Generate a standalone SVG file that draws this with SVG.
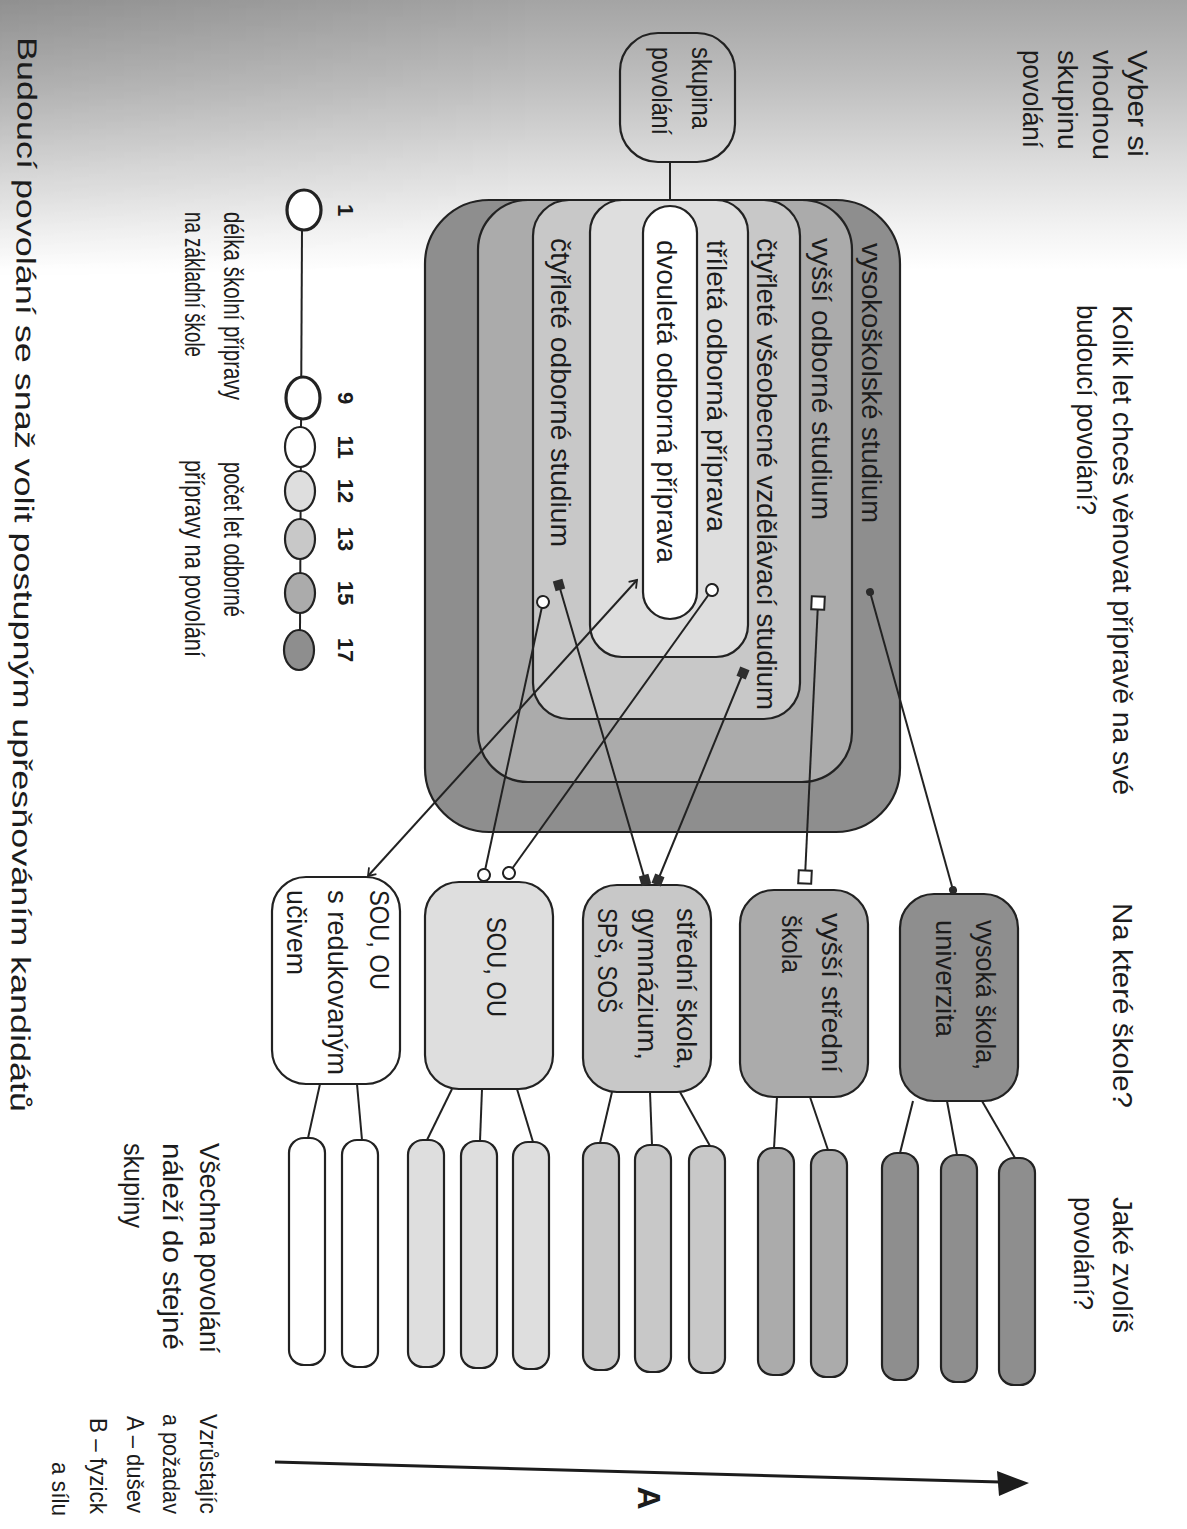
<svg xmlns="http://www.w3.org/2000/svg" width="1187" height="1529" viewBox="0 0 1187 1529">
  <defs>
    <style>
      .t { font-family: "Liberation Sans Narrow", "Liberation Sans", Arial, sans-serif; font-size: 27px; fill: #1c1c1c; }
      .small { font-size: 24px; }
      .num { font-family: "Liberation Sans Narrow", "Liberation Sans", Arial, sans-serif; font-size: 22px; font-weight: bold; fill: #1c1c1c; }
      .big { font-family: "Liberation Sans", Arial, sans-serif; font-size: 32px; font-weight: bold; fill: #1c1c1c; }
      .edge { stroke: #222; stroke-width: 2.2; }
      .thick { stroke: #222; stroke-width: 3.2; }
      .wire { fill: none; stroke: #222; stroke-width: 2; }
      .y11 { fill: #ffffff; }
      .y12 { fill: #dedede; }
      .y13 { fill: #c8c8c8; }
      .y15 { fill: #ababab; }
      .y17 { fill: #8e8e8e; }
    </style>
    <linearGradient id="scanShade" x1="0" y1="0" x2="0" y2="1">
      <stop offset="0" stop-color="#a4a4a4"/>
      <stop offset="0.3" stop-color="#bebebe"/>
      <stop offset="0.6" stop-color="#dcdcdc"/>
      <stop offset="0.85" stop-color="#f3f3f3"/>
      <stop offset="1" stop-color="#ffffff"/>
    </linearGradient>
    <linearGradient id="sideShade" x1="0" y1="0" x2="1" y2="0">
      <stop offset="0" stop-color="#000" stop-opacity="0.12"/>
      <stop offset="0.45" stop-color="#000" stop-opacity="0"/>
    </linearGradient>
    <linearGradient id="sideFade" x1="0" y1="0" x2="0" y2="1">
      <stop offset="0" stop-color="#fff" stop-opacity="1"/>
      <stop offset="1" stop-color="#fff" stop-opacity="0"/>
    </linearGradient>
    <mask id="topOnly" maskUnits="userSpaceOnUse" x="0" y="0" width="1187" height="300">
      <rect x="0" y="0" width="1187" height="280" fill="url(#sideFade)"/>
    </mask>
    <marker id="dot" viewBox="-6 -6 12 12" markerWidth="12" markerHeight="12" markerUnits="userSpaceOnUse" orient="auto">
      <circle r="4" fill="#2a2a2a"/>
    </marker>
    <marker id="sqOpen" viewBox="-9 -9 18 18" markerWidth="18" markerHeight="18" markerUnits="userSpaceOnUse" orient="auto">
      <rect x="-6.5" y="-6.5" width="13" height="13" fill="#fff" stroke="#222" stroke-width="2"/>
    </marker>
    <marker id="sqFill" viewBox="-8 -8 16 16" markerWidth="16" markerHeight="16" markerUnits="userSpaceOnUse" orient="auto">
      <rect x="-5" y="-5" width="10" height="10" fill="#2e2e2e"/>
    </marker>
    <marker id="ring" viewBox="-9 -9 18 18" markerWidth="18" markerHeight="18" markerUnits="userSpaceOnUse" orient="auto">
      <circle r="6" fill="#fff" stroke="#222" stroke-width="2"/>
    </marker>
    <marker id="chev" viewBox="-10 -8 12 16" markerWidth="12" markerHeight="16" markerUnits="userSpaceOnUse" orient="auto-start-reverse">
      <path d="M-7,-5 L0,0 L-7,5" fill="none" stroke="#222" stroke-width="1.8"/>
    </marker>
  </defs>

  <!-- page background with the darker band along the top edge -->
  <rect x="0" y="0" width="1187" height="1529" fill="#ffffff"/>
  <rect x="0" y="0" width="1187" height="270" fill="url(#scanShade)"/>
  <rect x="0" y="0" width="1187" height="280" fill="url(#sideShade)" mask="url(#topOnly)"/>

  <!-- headings -->
  <g id="heading-group">
    <text class="t" transform="translate(1128,50) rotate(90)" textLength="107" lengthAdjust="spacingAndGlyphs">Vyber si</text>
    <text class="t" transform="translate(1093,50) rotate(90)" textLength="110" lengthAdjust="spacingAndGlyphs">vhodnou</text>
    <text class="t" transform="translate(1058,50) rotate(90)" textLength="100" lengthAdjust="spacingAndGlyphs">skupinu</text>
    <text class="t" transform="translate(1023,50) rotate(90)" textLength="98" lengthAdjust="spacingAndGlyphs">povolání</text>
  </g>
  <g id="heading-years">
    <text class="t" transform="translate(1113,305) rotate(90)" textLength="490" lengthAdjust="spacingAndGlyphs">Kolik let chceš věnovat přípravě na své</text>
    <text class="t" transform="translate(1077,305) rotate(90)" textLength="210" lengthAdjust="spacingAndGlyphs">budoucí povolání?</text>
  </g>
  <g id="heading-school">
    <text class="t" transform="translate(1113,903) rotate(90)" textLength="205" lengthAdjust="spacingAndGlyphs">Na které škole?</text>
  </g>
  <g id="heading-job">
    <text class="t" transform="translate(1113,1197) rotate(90)" textLength="136" lengthAdjust="spacingAndGlyphs">Jaké zvolíš</text>
    <text class="t" transform="translate(1074,1197) rotate(90)" textLength="113" lengthAdjust="spacingAndGlyphs">povolání?</text>
  </g>

  <!-- occupation group -->
  <g id="node-skupina">
    <rect x="620" y="33" width="115" height="129" rx="38" fill="none" class="edge"/>
    <text class="t" transform="translate(692,47) rotate(90)" textLength="82" lengthAdjust="spacingAndGlyphs">skupina</text>
    <text class="t" transform="translate(652,47) rotate(90)" textLength="88" lengthAdjust="spacingAndGlyphs">povolání</text>
  </g>

  <!-- nested study levels -->
  <g id="node-vysokoskolske">
    <rect x="425" y="200" width="475" height="632" rx="64" class="y17 edge"/>
    <text class="t" transform="translate(862,243) rotate(90)" textLength="280" lengthAdjust="spacingAndGlyphs">vysokoškolské studium</text>
  </g>
  <g id="node-vyssi-odborne">
    <rect x="478" y="200" width="374" height="582" rx="50" class="y15 edge"/>
    <text class="t" transform="translate(812,238) rotate(90)" textLength="282" lengthAdjust="spacingAndGlyphs">vyšší odborné studium</text>
  </g>
  <g id="node-ctyrlete">
    <rect x="533" y="200" width="267" height="519" rx="36" class="y13 edge"/>
    <text class="t" transform="translate(757,238) rotate(90)" textLength="472" lengthAdjust="spacingAndGlyphs">čtyřleté všeobecné vzdělávací studium</text>
    <text class="t" transform="translate(551,238) rotate(90)" textLength="309" lengthAdjust="spacingAndGlyphs">čtyřleté odborné studium</text>
  </g>
  <g id="node-trileta">
    <rect x="590" y="200" width="158" height="457" rx="32" class="y12 edge"/>
    <text class="t" transform="translate(707,240) rotate(90)" textLength="292" lengthAdjust="spacingAndGlyphs">tříletá odborná příprava</text>
  </g>
  <g id="node-dvouleta">
    <rect x="643" y="206" width="54" height="413" rx="27" class="y11 edge"/>
    <text class="t" transform="translate(657,240) rotate(90)" textLength="323" lengthAdjust="spacingAndGlyphs">dvouletá odborná příprava</text>
  </g>

  <!-- years scale -->
  <g id="node-years-scale">
    <line x1="302" y1="230" x2="300" y2="630" stroke="#222" stroke-width="2"/>
    <ellipse cx="304" cy="210" rx="17" ry="20" fill="#fff" class="thick"/>
    <ellipse cx="303" cy="398" rx="17" ry="21" fill="#fff" class="thick"/>
    <ellipse cx="300" cy="447" rx="15" ry="20" class="y11 edge"/>
    <ellipse cx="300" cy="491" rx="15" ry="20" class="y12 edge"/>
    <ellipse cx="300" cy="539" rx="15" ry="20" class="y13 edge"/>
    <ellipse cx="300" cy="593" rx="15" ry="20" class="y15 edge"/>
    <ellipse cx="299" cy="650" rx="15" ry="20" class="y17 edge"/>
    <text class="num" transform="translate(338,210) rotate(90)" text-anchor="middle">1</text>
    <text class="num" transform="translate(338,398) rotate(90)" text-anchor="middle">9</text>
    <text class="num" transform="translate(338,447) rotate(90)" text-anchor="middle">11</text>
    <text class="num" transform="translate(338,491) rotate(90)" text-anchor="middle">12</text>
    <text class="num" transform="translate(338,539) rotate(90)" text-anchor="middle">13</text>
    <text class="num" transform="translate(338,593) rotate(90)" text-anchor="middle">15</text>
    <text class="num" transform="translate(338,650) rotate(90)" text-anchor="middle">17</text>
    <text class="t" transform="translate(224,212) rotate(90)" textLength="188" lengthAdjust="spacingAndGlyphs">délka školní přípravy</text>
    <text class="t" transform="translate(185,212) rotate(90)" textLength="145" lengthAdjust="spacingAndGlyphs">na základní škole</text>
    <text class="t" transform="translate(224,462) rotate(90)" textLength="155" lengthAdjust="spacingAndGlyphs">počet let odborné</text>
    <text class="t" transform="translate(185,460) rotate(90)" textLength="197" lengthAdjust="spacingAndGlyphs">přípravy na povolání</text>
  </g>

  <!-- schools -->
  <g id="node-sou-redukovane">
    <rect x="272" y="877" width="128" height="207" rx="34" class="y11 edge"/>
    <text class="t" transform="translate(370,890) rotate(90)" textLength="100" lengthAdjust="spacingAndGlyphs">SOU, OU</text>
    <text class="t" transform="translate(328,890) rotate(90)" textLength="185" lengthAdjust="spacingAndGlyphs">s redukovaným</text>
    <text class="t" transform="translate(287,890) rotate(90)" textLength="85" lengthAdjust="spacingAndGlyphs">učivem</text>
  </g>
  <g id="node-sou">
    <rect x="425" y="882" width="128" height="207" rx="34" class="y12 edge"/>
    <text class="t" transform="translate(487,917) rotate(90)" textLength="100" lengthAdjust="spacingAndGlyphs">SOU, OU</text>
  </g>
  <g id="node-stredni">
    <rect x="583" y="885" width="128" height="207" rx="34" class="y13 edge"/>
    <text class="t" transform="translate(677,908) rotate(90)" textLength="162" lengthAdjust="spacingAndGlyphs">střední škola,</text>
    <text class="t" transform="translate(638,908) rotate(90)" textLength="152" lengthAdjust="spacingAndGlyphs">gymnázium,</text>
    <text class="t" transform="translate(598,908) rotate(90)" textLength="105" lengthAdjust="spacingAndGlyphs">SPŠ, SOŠ</text>
  </g>
  <g id="node-vyssi-stredni">
    <rect x="740" y="890" width="128" height="207" rx="34" class="y15 edge"/>
    <text class="t" transform="translate(822,913) rotate(90)" textLength="160" lengthAdjust="spacingAndGlyphs">vyšší střední</text>
    <text class="t" transform="translate(782,915) rotate(90)" textLength="58" lengthAdjust="spacingAndGlyphs">škola</text>
  </g>
  <g id="node-vysoka">
    <rect x="900" y="894" width="118" height="207" rx="34" class="y17 edge"/>
    <text class="t" transform="translate(976,920) rotate(90)" textLength="150" lengthAdjust="spacingAndGlyphs">vysoká škola,</text>
    <text class="t" transform="translate(936,920) rotate(90)" textLength="117" lengthAdjust="spacingAndGlyphs">univerzita</text>
  </g>

  <!-- occupations -->
  <g id="node-jobs-sou-redukovane">
    <rect x="289" y="1138" width="36" height="227" rx="15" class="y11 edge"/>
    <rect x="342" y="1140" width="36" height="227" rx="15" class="y11 edge"/>
  </g>
  <g id="node-jobs-sou">
    <rect x="408" y="1140" width="36" height="227" rx="15" class="y12 edge"/>
    <rect x="461" y="1141" width="36" height="227" rx="15" class="y12 edge"/>
    <rect x="513" y="1142" width="36" height="227" rx="15" class="y12 edge"/>
  </g>
  <g id="node-jobs-stredni">
    <rect x="583" y="1143" width="36" height="227" rx="15" class="y13 edge"/>
    <rect x="635" y="1145" width="36" height="227" rx="15" class="y13 edge"/>
    <rect x="689" y="1146" width="36" height="227" rx="15" class="y13 edge"/>
  </g>
  <g id="node-jobs-vyssi-stredni">
    <rect x="758" y="1148" width="36" height="227" rx="15" class="y15 edge"/>
    <rect x="811" y="1150" width="36" height="227" rx="15" class="y15 edge"/>
  </g>
  <g id="node-jobs-vysoka">
    <rect x="882" y="1153" width="36" height="227" rx="15" class="y17 edge"/>
    <rect x="941" y="1155" width="36" height="227" rx="15" class="y17 edge"/>
    <rect x="999" y="1158" width="36" height="227" rx="15" class="y17 edge"/>
  </g>

  <!-- notes along the lower edge -->
  <g id="note-same-group">
    <text class="t" transform="translate(200,1143) rotate(90)" textLength="210" lengthAdjust="spacingAndGlyphs">Všechna povolání</text>
    <text class="t" transform="translate(163,1143) rotate(90)" textLength="207" lengthAdjust="spacingAndGlyphs">náleží do stejné</text>
    <text class="t" transform="translate(124,1143) rotate(90)" textLength="85" lengthAdjust="spacingAndGlyphs">skupiny</text>
  </g>
  <g id="note-demands">
    <text class="t small" transform="translate(200,1414) rotate(90)" textLength="100" lengthAdjust="spacingAndGlyphs">Vzrůstajíc</text>
    <text class="t small" transform="translate(163,1414) rotate(90)" textLength="100" lengthAdjust="spacingAndGlyphs">a požadav</text>
    <text class="t small" transform="translate(127,1416) rotate(90)" textLength="97" lengthAdjust="spacingAndGlyphs">A – dušev</text>
    <text class="t small" transform="translate(90,1418) rotate(90)" textLength="96" lengthAdjust="spacingAndGlyphs">B – fyzick</text>
    <text class="t small" transform="translate(52,1462) rotate(90)" textLength="54" lengthAdjust="spacingAndGlyphs">a sílu</text>
  </g>
  <g id="note-bottom">
    <text class="t" transform="translate(18,37) rotate(90.4)" textLength="1075" lengthAdjust="spacingAndGlyphs">Budoucí povolání se snaž volit postupným upřesňováním kandidátů</text>
  </g>

  <!-- demand scale arrow -->
  <g id="node-scale-a">
    <path d="M275,1462 L1000,1482" fill="none" stroke="#1c1c1c" stroke-width="3"/>
    <polygon points="1029,1483 997,1471 999,1496" fill="#1c1c1c"/>
    <text class="big" transform="translate(638,1498) rotate(90)" text-anchor="middle">A</text>
  </g>

  <!-- connectors -->
  <g id="connectors" class="wire">
    <line x1="670" y1="162" x2="670" y2="200"/>
    <line x1="870" y1="592" x2="953" y2="890" marker-start="url(#dot)" marker-end="url(#dot)"/>
    <line x1="818" y1="603" x2="805" y2="877" marker-start="url(#sqOpen)" marker-end="url(#sqOpen)"/>
    <line x1="743" y1="673" x2="658" y2="880" marker-start="url(#sqFill)" marker-end="url(#sqFill)"/>
    <line x1="559" y1="585" x2="645" y2="880" marker-start="url(#sqFill)" marker-end="url(#sqFill)"/>
    <line x1="712" y1="590" x2="509" y2="873" marker-start="url(#ring)" marker-end="url(#ring)"/>
    <line x1="543" y1="602" x2="484" y2="875" marker-start="url(#ring)" marker-end="url(#ring)"/>
    <line x1="637" y1="580" x2="368" y2="876" marker-start="url(#chev)" marker-end="url(#chev)"/>

    <line x1="320" y1="1084" x2="308" y2="1138"/>
    <line x1="357" y1="1084" x2="362" y2="1140"/>
    <line x1="452" y1="1089" x2="427" y2="1140"/>
    <line x1="482" y1="1089" x2="480" y2="1141"/>
    <line x1="517" y1="1089" x2="533" y2="1142"/>
    <line x1="612" y1="1092" x2="600" y2="1143"/>
    <line x1="650" y1="1092" x2="652" y2="1145"/>
    <line x1="680" y1="1092" x2="710" y2="1146"/>
    <line x1="777" y1="1097" x2="774" y2="1148"/>
    <line x1="810" y1="1097" x2="828" y2="1150"/>
    <line x1="913" y1="1101" x2="900" y2="1153"/>
    <line x1="947" y1="1101" x2="957" y2="1155"/>
    <line x1="982" y1="1101" x2="1015" y2="1158"/>
  </g>
</svg>
